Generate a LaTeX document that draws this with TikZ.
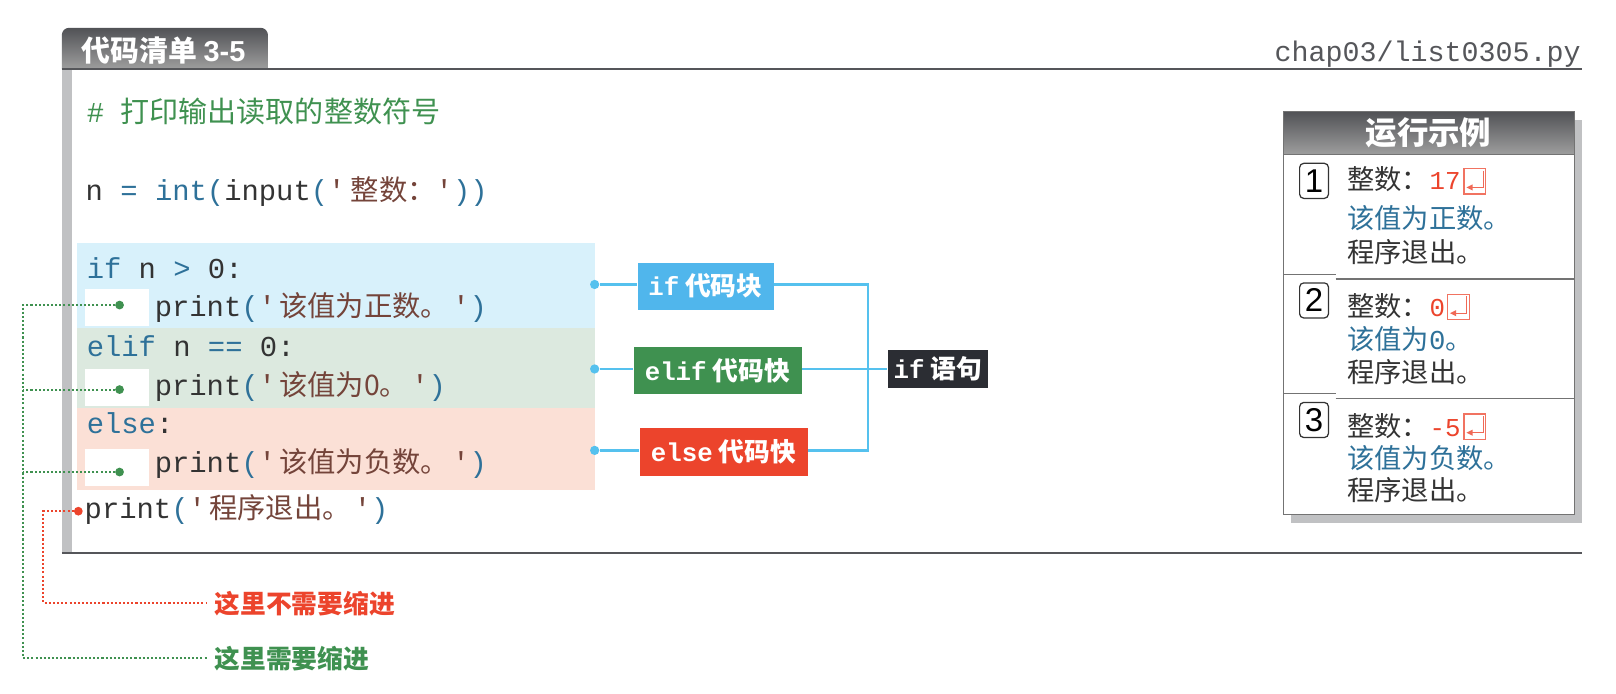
\documentclass[tikz,border=0pt]{standalone}
\usepackage{fontspec}
\newfontfamily\cjk{Noto Sans CJK SC}
\newfontfamily\mono{Liberation Mono}
\setmainfont{Liberation Sans}
\usetikzlibrary{calc}
\definecolor{kwc}{HTML}{2E7199}
\definecolor{strc}{HTML}{74443A}
\definecolor{txtc}{HTML}{333333}
\definecolor{grn}{HTML}{3F9150}
\definecolor{redc}{HTML}{EC442C}
\definecolor{cyanc}{HTML}{55C1EE}
\definecolor{barc}{HTML}{C0C1C3}
\definecolor{rulec}{HTML}{55565A}
\definecolor{blkblue}{HTML}{D8F1FB}
\definecolor{blkgreen}{HTML}{DCE9DF}
\definecolor{blkpeach}{HTML}{FBE0D6}
\definecolor{tagblue}{HTML}{50B6EC}
\definecolor{tagdark}{HTML}{2B2D33}
\newcommand\K[1]{\textcolor{kwc}{#1}}
\newcommand\St[1]{\textcolor{strc}{#1}}
\newcommand\CN[1]{{\fontsize{27.5pt}{27.5pt}\cjk #1}}
\newcommand\PrintS[1]{print\K{(}\St{'\hspace{3pt}\CN{#1}\hspace{3pt}'}\K{)}}
\tikzset{
  x=1pt,y=-1pt,
  code/.style={anchor=base west,inner sep=0pt,text=txtc,font=\fontsize{28pt}{28pt}\mono},
  sym/.style={anchor=base west,inner sep=0pt,text=txtc,font=\fontsize{26.5pt}{26.5pt}\cjk},
  tag/.style={inner sep=0pt,text=white,draw=white,line width=.5pt,font=\fontsize{25pt}{25pt}\bfseries\cjk},
  cdot/.style={circle,fill=cyanc,inner sep=0pt,minimum size=9pt},
  gdot/.style={circle,fill=grn,inner sep=0pt,minimum size=8.5pt},
  rdot/.style={circle,fill=redc,inner sep=0pt,minimum size=8.5pt},
  conn/.style={draw=cyanc,line width=2.4pt},
  gdots/.style={draw=grn,line width=2pt,dash pattern=on 2pt off 2pt},
  rdots/.style={draw=redc,line width=2pt,dash pattern=on 2pt off 2pt},
  numbox/.style={draw=txtc,line width=1.2pt,rounded corners=4pt,inner sep=0pt,minimum width=28pt,minimum height=34pt,text=black,font=\fontsize{32pt}{32pt}\selectfont},
  enter/.style={draw=redc!75,line width=1.2pt,inner sep=0pt,minimum width=21pt,minimum height=24.5pt},
  note/.style={anchor=west,inner sep=0pt,font=\fontsize{25pt}{25pt}\bfseries\cjk},
}
\newcommand\Enter[3]{%
  \node[enter] (#1) at (#2,#3) {};
  \draw[redc!80,line width=1.2pt] ($(#1.north east)+(-3,2.5)$) -- ($(#1.south east)+(-3,-7)$) -- ($(#1.south west)+(5,-7)$);
  \fill[redc!80] ($(#1.south west)+(3,-7)$) -- ++(6,-3) -- ++(0,6) -- cycle;
}
\begin{document}
\begin{tikzpicture}
\useasboundingbox (0,0) rectangle (1568,673);
% listing frame
\shade[top color=rulec!95!black,bottom color=black!38]
  (60,67) [rounded corners=7pt] -- (60,27) -- (260,27) [sharp corners] -- (260,67) -- cycle;
\node[anchor=base west,inner sep=0pt,text=white,font=\fontsize{28pt}{28pt}\bfseries\cjk] (title) at (79,60) {代码清单 {\normalfont\fontsize{28pt}{28pt}\bfseries\selectfont 3-5}};
\fill[barc] (60,67) rectangle (70,537);
\draw[rulec,line width=2pt] (60,67) -- (1535,67);
\draw[rulec,line width=2pt] (60,537) -- (1535,537);
\node[anchor=base east,inner sep=0pt,text=rulec,font=\fontsize{27.5pt}{28pt}\mono] (path) at (1534,60) {chap03/list0305.py};
% coloured blocks
\fill[blkblue] (75,236) rectangle (577,318);
\fill[blkgreen] (75,318) rectangle (577,396);
\fill[blkpeach] (75,396) rectangle (577,475);
\fill[white] (82,280) rectangle (145,316);
\fill[white] (82,358) rectangle (145,394);
\fill[white] (82,436) rectangle (145,472);
% code
\node[code,text=grn] (l1) at (84,119) {\#\hspace{16pt}{\fontsize{28.2pt}{28pt}\cjk 打印输出读取的整数符号}};
\node[code] (l2) at (83,195) {n \K{=} \K{int(}input\K{(}\St{'\hspace{5pt}\CN{整数：}'}\K{))}};
\node[code] (l3) at (84,270) {\K{if} n \K{>} 0:};
\node[code] (l4) at (150,307) {\PrintS{该值为正数。}};
\node[code] (l5) at (84,346) {\K{elif} n \K{==} 0:};
\node[code] (l6) at (150,384) {\PrintS{该值为0。}};
\node[code] (l7) at (84,421) {\K{else}:};
\node[code] (l8) at (150,458) {\PrintS{该值为负数。}};
\node[code] (l9) at (82,503) {\PrintS{程序退出。}};
% block tags
\node[cdot] (d1) at (577,276) {};
\node[cdot] (d2) at (577,358) {};
\node[cdot] (d3) at (577,437) {};
\node[tag,fill=tagblue,minimum width=133pt,minimum height=47pt] (t1) at (684.5,277.5) {{\fontsize{25pt}{25pt}\bfseries\mono if} 代码块};
\node[tag,fill=grn,minimum width=164pt,minimum height=47pt] (t2) at (696,359.5) {{\fontsize{25pt}{25pt}\bfseries\mono elif} 代码快};
\node[tag,fill=redc,minimum width=164pt,minimum height=47pt] (t3) at (702,438.5) {{\fontsize{25pt}{25pt}\bfseries\mono else} 代码快};
\node[tag,fill=tagdark,minimum width=98pt,minimum height=38pt] (t4) at (910,358) {{\fontsize{25pt}{25pt}\bfseries\mono if} 语句};
\coordinate (j) at (842,358);
\draw[conn] (d1) -- (d1-|t1.west);
\draw[conn] (d2) -- (d2-|t2.west);
\draw[conn] (d3) -- (d3-|t3.west);
\draw[conn] (d1-|t1.east) -| (j);
\draw[conn] (d3-|t3.east) -| (j);
\draw[conn] (d2-|t2.east) -- (t4.west|-d2);
% indentation callouts
\node[gdot] (g1) at (116,296) {};
\node[gdot] (g2) at (116,378) {};
\node[gdot] (g3) at (116,458) {};
\node[rdot] (r1) at (76,496) {};
\node[note,text=redc] (n1) at (208,586) {这里不需要缩进};
\node[note,text=grn] (n2) at (208,639) {这里需要缩进};
\coordinate (gc) at (22,638);
\coordinate (rc) at (42,585);
\coordinate (ge) at (201,638);
\coordinate (re) at (201,585);
\draw[gdots] (g1) -| (gc) -- (ge);
\draw[gdots] (g2) -- (g2-|gc);
\draw[gdots] (g3) -- (g3-|gc);
\draw[rdots] (r1) -| (rc) -- (re);
% run example
\fill[barc] (1253,116) rectangle (1535,507);
\fill[white] (1245,108) rectangle (1528,499.5);
\shade[top color=rulec!95!black,bottom color=black!38] (1245,108) rectangle (1528,150);
\draw[black!55,line width=1.2pt] (1245,108) rectangle (1528,499.5);
\draw[black!55,line width=1.2pt] (1245,150) -- (1528,150);
\node[text=white,inner sep=0pt,font=\fontsize{30.5pt}{30pt}\bfseries\cjk] (rt) at (1386,129) {运行示例};
\draw[black!55,line width=1.2pt] (1245,266) -- (1296,266);
\draw[black!55,line width=1.2pt] (1296,270.6) -- (1528,270.6);
\draw[black!55,line width=1.2pt] (1245,382) -- (1296,382);
\draw[black!55,line width=1.2pt] (1296,387) -- (1528,387);
\node[numbox] (b1) at (1275,175.5) {1};
\node[numbox] (b2) at (1275,291.5) {2};
\node[numbox] (b3) at (1275,407.5) {3};
% run 1
\node[sym] (a1) at (1307,184) {整数：};
\node[code,text=redc,font=\fontsize{25pt}{25pt}\mono] (a2) at (1387,184) {17};
\Enter{e1}{1431}{176}
\node[sym,text=kwc] (a3) at (1307,222) {该值为正数。};
\node[sym] (a4) at (1307,255) {程序退出。};
% run 2
\node[sym] (c1) at (1307,307) {整数：};
\node[code,text=redc,font=\fontsize{25pt}{25pt}\mono] (c2) at (1387,307) {0};
\Enter{e2}{1415}{298}
\node[sym,text=kwc] (c3) at (1307,339) {该值为{\mono 0}。};
\node[sym] (c4) at (1307,371) {程序退出。};
% run 3
\node[sym] (f1) at (1307,424) {整数：};
\node[code,text=redc,font=\fontsize{25pt}{25pt}\mono] (f2) at (1387,424) {-5};
\Enter{e3}{1431}{414}
\node[sym,text=kwc] (f3) at (1307,455) {该值为负数。};
\node[sym] (f4) at (1307,486) {程序退出。};
\end{tikzpicture}
\end{document}
